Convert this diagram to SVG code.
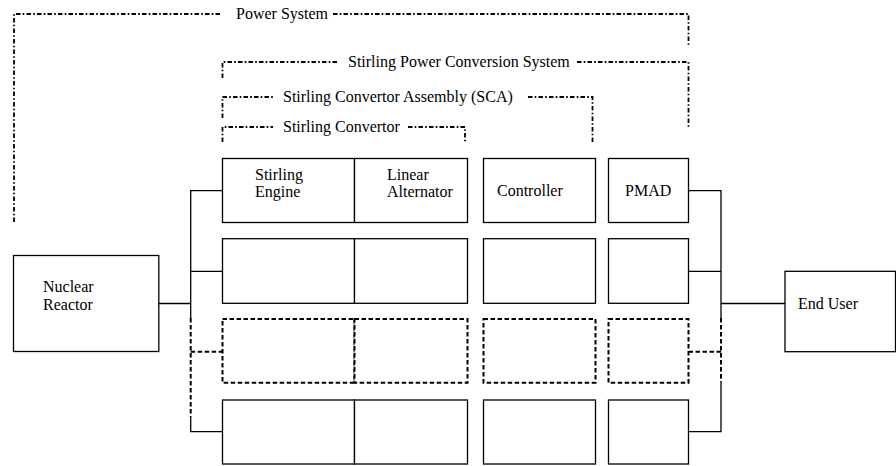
<svg xmlns="http://www.w3.org/2000/svg" width="896" height="466" viewBox="0 0 896 466">
<style>
text{font-family:"Liberation Serif","Times New Roman",serif;font-size:16px;fill:#000}
.box{fill:#fff;stroke:#000;stroke-width:1.3}
.dbox{fill:#fff;stroke:#000;stroke-width:2;stroke-dasharray:4.5 2.5}
.ln{fill:none;stroke:#000;stroke-width:1.3}
.dln{fill:none;stroke:#000;stroke-width:2;stroke-dasharray:4.5 2.5}
.br{fill:none;stroke:#000;stroke-width:1.8;stroke-dasharray:4.5 2.2 1.6 2.2}
</style>
<rect width="896" height="466" fill="#fff"/>
<g id="brackets">
<g id="power-system">
<path class="br" d="M14,222 V14 H220"/>
<path class="br" d="M333,14 H688.5 V45"/>
<text x="236" y="19">Power System</text>
</g>
<g id="spcs">
<path class="br" d="M222.5,78 V62 H338"/>
<path class="br" d="M577,62 H688.5 V127"/>
<text x="348" y="67">Stirling Power Conversion System</text>
</g>
<g id="sca">
<path class="br" d="M222.5,118 V97 H273"/>
<path class="br" d="M528,97 H592.5 V142"/>
<text x="283" y="102">Stirling Convertor Assembly (SCA)</text>
</g>
<g id="sc">
<path class="br" d="M222.5,142 V127 H273"/>
<path class="br" d="M408,127 H465 V142"/>
<text x="283" y="132">Stirling Convertor</text>
</g>
</g>
<g id="connectors">
<path class="ln" d="M159,303.5 H190.7 M190.7,318 V190.7 H222.5 M190.7,271.3 H222.5 M190.7,416.7 V431.7 H222.5"/>
<path class="dln" d="M190.7,318 V416.7 M190.7,351.7 H222.5"/>
<path class="ln" d="M688.5,190.7 H721 V318 M688.5,271.3 H721 M721,303.5 H785 M721,381.7 V431.7 H688.5"/>
<path class="dln" d="M721,318 V381.7 M688.5,351.7 H721"/>
</g>
<g id="nuclear-reactor">
<rect class="box" x="13.5" y="255.5" width="145.3" height="96"/>
<text x="43" y="292">Nuclear</text>
<text x="43" y="310">Reactor</text>
</g>
<g id="end-user">
<rect class="box" x="785" y="271.3" width="110.5" height="80.4"/>
<text x="798" y="309">End User</text>
</g>
<g id="row1">
<g id="stirling-engine-1"><rect class="box" x="222.5" y="158.5" width="132" height="64"/><text x="255" y="180">Stirling</text><text x="255" y="197">Engine</text></g>
<g id="linear-alternator-1"><rect class="box" x="354.5" y="158.5" width="113" height="64"/><text x="387" y="180">Linear</text><text x="387" y="197">Alternator</text></g>
<g id="controller-1"><rect class="box" x="483.5" y="158.5" width="112" height="64"/><text x="497" y="196">Controller</text></g>
<g id="pmad-1"><rect class="box" x="608.5" y="158.5" width="80" height="64"/><text x="625" y="196">PMAD</text></g>
</g>
<g id="row2">
<g id="stirling-engine-2"><rect class="box" x="222.5" y="238.7" width="132" height="64.6"/></g>
<g id="linear-alternator-2"><rect class="box" x="354.5" y="238.7" width="113" height="64.6"/></g>
<g id="controller-2"><rect class="box" x="483.5" y="238.7" width="112" height="64.6"/></g>
<g id="pmad-2"><rect class="box" x="608.5" y="238.7" width="80" height="64.6"/></g>
</g>
<g id="row3">
<g id="stirling-engine-3"><rect class="dbox" x="222.5" y="319" width="132" height="63.7"/></g>
<g id="linear-alternator-3"><rect class="dbox" x="354.5" y="319" width="113" height="63.7"/></g>
<g id="controller-3"><rect class="dbox" x="483.5" y="319" width="112" height="63.7"/></g>
<g id="pmad-3"><rect class="dbox" x="608.5" y="319" width="80" height="63.7"/></g>
</g>
<g id="row4">
<g id="stirling-engine-4"><rect class="box" x="222.5" y="400" width="132" height="64"/></g>
<g id="linear-alternator-4"><rect class="box" x="354.5" y="400" width="113" height="64"/></g>
<g id="controller-4"><rect class="box" x="483.5" y="400" width="112" height="64"/></g>
<g id="pmad-4"><rect class="box" x="608.5" y="400" width="80" height="64"/></g>
</g>
</svg>
